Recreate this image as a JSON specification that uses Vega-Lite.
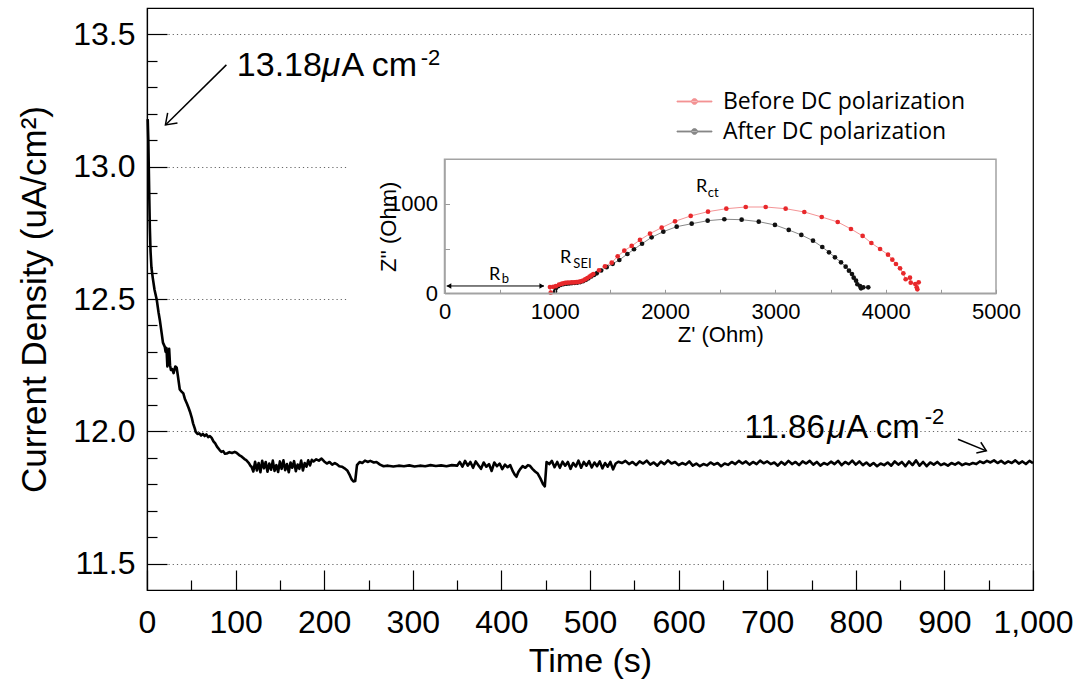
{
  "$schema": "https://vega.github.io/schema/vega-lite/v6.json",
  "width": 886,
  "height": 582,
  "autosize": {"type": "none"},
  "padding": {"left": 147, "top": 8, "right": 47, "bottom": 91},
  "background": "white",
  "config": {
    "view": {"stroke": "black", "strokeWidth": 1.2},
    "font": "Liberation Sans",
    "axis": {"labelFont": "Liberation Sans", "titleFont": "Liberation Sans", "titleFontWeight": "normal", "labelColor": "black", "titleColor": "black", "domainColor": "black", "tickColor": "black"},
    "legend": {"labelFont": "Open Sans", "labelFontSize": 23, "labelLimit": 0, "labelColor": "black"},
    "text": {"font": "Liberation Sans"}
  },
  "datasets": {
    "main": [
      {"t":0.8,"c":13.18},{"t":1.5,"c":13.1},{"t":2.0,"c":13.0},{"t":2.6,"c":12.88},{"t":3.2,"c":12.77},{"t":4.0,"c":12.68},{"t":5.0,"c":12.62},{"t":6.5,"c":12.58},{"t":8.5,"c":12.535},{"t":11,"c":12.497},{"t":13,"c":12.45},{"t":14.5,"c":12.42},{"t":16.5,"c":12.372},{"t":18,"c":12.335},{"t":20,"c":12.32},{"t":21,"c":12.3},{"t":22,"c":12.315},{"t":23,"c":12.245},{"t":24,"c":12.26},{"t":25,"c":12.312},{"t":26,"c":12.25},{"t":27,"c":12.232},{"t":28.5,"c":12.235},{"t":30,"c":12.22},{"t":32,"c":12.245},{"t":33.5,"c":12.24},{"t":35,"c":12.206},{"t":37,"c":12.158},{"t":39,"c":12.15},{"t":41,"c":12.143},{"t":43,"c":12.12},{"t":45,"c":12.105},{"t":47,"c":12.088},{"t":48.5,"c":12.074},{"t":50.5,"c":12.052},{"t":52,"c":12.03},{"t":54,"c":12.01},{"t":55,"c":11.998},{"t":57,"c":11.99},{"t":59,"c":11.992},{"t":61,"c":11.984},{"t":63,"c":11.99},{"t":65,"c":11.982},{"t":67,"c":11.988},{"t":69,"c":11.978},{"t":71,"c":11.982},{"t":73,"c":11.975},{"t":75,"c":11.962},{"t":77,"c":11.954},{"t":79,"c":11.942},{"t":82,"c":11.929},{"t":84,"c":11.922},{"t":86,"c":11.925},{"t":88,"c":11.915},{"t":90,"c":11.916},{"t":93,"c":11.921},{"t":96,"c":11.918},{"t":99,"c":11.922},{"t":101,"c":11.919},{"t":104,"c":11.91},{"t":107,"c":11.904},{"t":110,"c":11.895},{"t":112,"c":11.891},{"t":115,"c":11.88},{"t":117,"c":11.868},
      {"t":118,"c":11.866},{"t":120,"c":11.848},{"t":122,"c":11.885},{"t":124,"c":11.852},{"t":126,"c":11.88},{"t":128,"c":11.845},{"t":130,"c":11.888},{"t":132,"c":11.86},{"t":134,"c":11.884},{"t":136,"c":11.847},{"t":138,"c":11.878},{"t":140,"c":11.855},{"t":142,"c":11.889},{"t":144,"c":11.85},{"t":146,"c":11.872},{"t":148,"c":11.846},{"t":150,"c":11.886},{"t":152,"c":11.858},{"t":154,"c":11.89},{"t":156,"c":11.853},{"t":158,"c":11.876},{"t":160,"c":11.845},{"t":162,"c":11.882},{"t":164,"c":11.862},{"t":166,"c":11.887},{"t":168,"c":11.849},{"t":170,"c":11.874},{"t":172,"c":11.858},{"t":174,"c":11.889},{"t":176,"c":11.852},{"t":178,"c":11.88},{"t":180,"c":11.866},{"t":182,"c":11.89},{"t":184,"c":11.871},{"t":186,"c":11.892},{"t":188,"c":11.886},
      {"t":191,"c":11.894},{"t":194,"c":11.889},{"t":197,"c":11.897},{"t":200,"c":11.886},{"t":203,"c":11.878},{"t":206,"c":11.884},{"t":209,"c":11.874},{"t":212,"c":11.88},{"t":214,"c":11.876},{"t":217,"c":11.868},{"t":220,"c":11.866},{"t":223,"c":11.86},{"t":226,"c":11.852},{"t":229,"c":11.833},{"t":231,"c":11.818},{"t":233,"c":11.81},{"t":235,"c":11.812},{"t":237,"c":11.872},{"t":240,"c":11.884},{"t":243,"c":11.88},{"t":246,"c":11.889},{"t":249,"c":11.884},{"t":252,"c":11.888},{"t":256,"c":11.882},{"t":259,"c":11.884},{"t":263,"c":11.874},{"t":267,"c":11.868},{"t":272,"c":11.87},{"t":278,"c":11.867},{"t":284,"c":11.87},{"t":290,"c":11.868},{"t":296,"c":11.871},{"t":302,"c":11.867},{"t":308,"c":11.87},{"t":314,"c":11.868},{"t":320,"c":11.872},{"t":326,"c":11.869},{"t":332,"c":11.871},{"t":338,"c":11.868},{"t":344,"c":11.872},{"t":350,"c":11.87},
      {"t":353,"c":11.884},{"t":356,"c":11.866},{"t":359,"c":11.888},{"t":362,"c":11.87},{"t":365,"c":11.884},{"t":368,"c":11.862},{"t":371,"c":11.886},{"t":374,"c":11.872},{"t":377,"c":11.858},{"t":380,"c":11.882},{"t":383,"c":11.866},{"t":386,"c":11.876},{"t":389,"c":11.85},{"t":392,"c":11.882},{"t":395,"c":11.868},{"t":398,"c":11.878},{"t":401,"c":11.857},{"t":404,"c":11.874},{"t":407,"c":11.864},{"t":410,"c":11.872},{"t":413,"c":11.848},{"t":415,"c":11.836},{"t":417,"c":11.828},{"t":419,"c":11.845},{"t":421,"c":11.856},{"t":424,"c":11.868},{"t":427,"c":11.862},{"t":430,"c":11.872},{"t":432,"c":11.87},{"t":435,"c":11.858},{"t":438,"c":11.848},{"t":441,"c":11.84},{"t":444,"c":11.822},{"t":447,"c":11.8},{"t":449,"c":11.792},{"t":451,"c":11.884},{"t":454,"c":11.876},{"t":457,"c":11.888},{"t":460,"c":11.864},{"t":463,"c":11.884},{"t":466,"c":11.862},{"t":469,"c":11.885},{"t":472,"c":11.87},{"t":475,"c":11.884},{"t":478,"c":11.858},{"t":481,"c":11.88},{"t":484,"c":11.867},{"t":487,"c":11.889},{"t":490,"c":11.862},{"t":493,"c":11.884},{"t":496,"c":11.87},{"t":499,"c":11.887},{"t":502,"c":11.863},{"t":505,"c":11.882},{"t":508,"c":11.868},{"t":511,"c":11.886},{"t":514,"c":11.86},{"t":517,"c":11.88},{"t":520,"c":11.866},{"t":523,"c":11.884},{"t":526,"c":11.856},{"t":529,"c":11.878},{"t":532,"c":11.885},
      {"t":536,"c":11.88},{"t":540,"c":11.888},{"t":544,"c":11.876},{"t":548,"c":11.884},{"t":552,"c":11.872},{"t":556,"c":11.886},{"t":560,"c":11.878},{"t":564,"c":11.889},{"t":568,"c":11.874},{"t":572,"c":11.882},{"t":576,"c":11.87},{"t":580,"c":11.885},{"t":584,"c":11.876},{"t":588,"c":11.89},{"t":592,"c":11.878},{"t":596,"c":11.884},{"t":600,"c":11.872},{"t":604,"c":11.88},{"t":608,"c":11.874},{"t":612,"c":11.886},{"t":616,"c":11.87},{"t":620,"c":11.878},{"t":624,"c":11.868},{"t":628,"c":11.876},{"t":632,"c":11.871},{"t":636,"c":11.882},{"t":640,"c":11.874},{"t":644,"c":11.88},{"t":648,"c":11.868},{"t":652,"c":11.878},{"t":656,"c":11.873},{"t":660,"c":11.884},{"t":664,"c":11.876},{"t":668,"c":11.888},{"t":672,"c":11.878},{"t":676,"c":11.886},{"t":680,"c":11.874},{"t":684,"c":11.884},{"t":688,"c":11.876},{"t":692,"c":11.889},{"t":696,"c":11.879},{"t":700,"c":11.886},{"t":704,"c":11.876},{"t":708,"c":11.882},{"t":712,"c":11.87},{"t":716,"c":11.884},{"t":720,"c":11.874},{"t":724,"c":11.888},{"t":728,"c":11.876},{"t":732,"c":11.884},{"t":736,"c":11.872},{"t":740,"c":11.886},{"t":744,"c":11.878},{"t":748,"c":11.888},{"t":752,"c":11.874},{"t":756,"c":11.884},{"t":760,"c":11.87},{"t":764,"c":11.88},{"t":768,"c":11.874},{"t":772,"c":11.885},{"t":776,"c":11.876},{"t":780,"c":11.888},{"t":784,"c":11.872},{"t":788,"c":11.884},{"t":792,"c":11.876},{"t":796,"c":11.889},{"t":800,"c":11.874},{"t":804,"c":11.886},{"t":808,"c":11.872},{"t":812,"c":11.882},{"t":816,"c":11.87},{"t":820,"c":11.88},{"t":824,"c":11.868},{"t":828,"c":11.878},{"t":832,"c":11.872},{"t":836,"c":11.882},{"t":840,"c":11.87},{"t":844,"c":11.886},{"t":848,"c":11.874},{"t":852,"c":11.884},{"t":856,"c":11.868},{"t":860,"c":11.886},{"t":864,"c":11.872},{"t":868,"c":11.89},{"t":872,"c":11.87},{"t":876,"c":11.884},{"t":880,"c":11.868},{"t":884,"c":11.882},{"t":888,"c":11.874},{"t":892,"c":11.884},{"t":896,"c":11.872},{"t":900,"c":11.878},{"t":904,"c":11.87},{"t":908,"c":11.88},{"t":912,"c":11.874},{"t":916,"c":11.882},{"t":920,"c":11.872},{"t":924,"c":11.878},{"t":928,"c":11.874},{"t":932,"c":11.88},{"t":936,"c":11.876},{"t":940,"c":11.886},{"t":944,"c":11.88},{"t":948,"c":11.888},{"t":952,"c":11.882},{"t":956,"c":11.89},{"t":960,"c":11.88},{"t":964,"c":11.888},{"t":968,"c":11.878},{"t":972,"c":11.886},{"t":976,"c":11.88},{"t":980,"c":11.89},{"t":984,"c":11.878},{"t":988,"c":11.886},{"t":992,"c":11.876},{"t":996,"c":11.888},{"t":1000,"c":11.88}
    ],
    "eis": [
      {"s":"After DC polarization","i":1,"zr":1002,"zi":18},{"s":"After DC polarization","i":2,"zr":1008,"zi":55},{"s":"After DC polarization","i":3,"zr":1030,"zi":80},{"s":"After DC polarization","i":4,"zr":1055,"zi":95},{"s":"After DC polarization","i":5,"zr":1080,"zi":103},{"s":"After DC polarization","i":6,"zr":1105,"zi":108},{"s":"After DC polarization","i":7,"zr":1130,"zi":111},{"s":"After DC polarization","i":8,"zr":1155,"zi":114},{"s":"After DC polarization","i":9,"zr":1180,"zi":117},{"s":"After DC polarization","i":10,"zr":1205,"zi":120},{"s":"After DC polarization","i":11,"zr":1230,"zi":126},{"s":"After DC polarization","i":12,"zr":1255,"zi":135},{"s":"After DC polarization","i":13,"zr":1280,"zi":150},{"s":"After DC polarization","i":14,"zr":1305,"zi":168},{"s":"After DC polarization","i":15,"zr":1330,"zi":188},{"s":"After DC polarization","i":16,"zr":1355,"zi":205},{"s":"After DC polarization","i":17,"zr":1380,"zi":224},{"s":"After DC polarization","i":18,"zr":1420,"zi":255},{"s":"After DC polarization","i":19,"zr":1470,"zi":292},{"s":"After DC polarization","i":20,"zr":1525,"zi":330},{"s":"After DC polarization","i":21,"zr":1585,"zi":373},{"s":"After DC polarization","i":22,"zr":1658,"zi":440},{"s":"After DC polarization","i":23,"zr":1718,"zi":493},{"s":"After DC polarization","i":24,"zr":1791,"zi":555},{"s":"After DC polarization","i":25,"zr":1878,"zi":627},{"s":"After DC polarization","i":26,"zr":1984,"zi":690},{"s":"After DC polarization","i":27,"zr":2105,"zi":746},{"s":"After DC polarization","i":28,"zr":2241,"zi":779},{"s":"After DC polarization","i":29,"zr":2386,"zi":813},{"s":"After DC polarization","i":30,"zr":2537,"zi":829},{"s":"After DC polarization","i":31,"zr":2694,"zi":824},{"s":"After DC polarization","i":32,"zr":2849,"zi":802},{"s":"After DC polarization","i":33,"zr":2996,"zi":765},{"s":"After DC polarization","i":34,"zr":3121,"zi":709},{"s":"After DC polarization","i":35,"zr":3235,"zi":653},{"s":"After DC polarization","i":36,"zr":3341,"zi":589},{"s":"After DC polarization","i":37,"zr":3425,"zi":518},{"s":"After DC polarization","i":38,"zr":3486,"zi":459},{"s":"After DC polarization","i":39,"zr":3540,"zi":403},{"s":"After DC polarization","i":40,"zr":3595,"zi":347},{"s":"After DC polarization","i":41,"zr":3637,"zi":298},{"s":"After DC polarization","i":42,"zr":3667,"zi":253},{"s":"After DC polarization","i":43,"zr":3694,"zi":216},{"s":"After DC polarization","i":44,"zr":3710,"zi":175},{"s":"After DC polarization","i":45,"zr":3731,"zi":141},{"s":"After DC polarization","i":46,"zr":3743,"zi":101},{"s":"After DC polarization","i":47,"zr":3767,"zi":82},{"s":"After DC polarization","i":48,"zr":3776,"zi":56},{"s":"After DC polarization","i":49,"zr":3797,"zi":67},{"s":"After DC polarization","i":50,"zr":3842,"zi":67},
      {"s":"Before DC polarization","i":1,"zr":963,"zi":7},{"s":"Before DC polarization","i":2,"zr":956,"zi":70},{"s":"Before DC polarization","i":3,"zr":985,"zi":72},{"s":"Before DC polarization","i":4,"zr":1010,"zi":80},{"s":"Before DC polarization","i":5,"zr":1038,"zi":97},{"s":"Before DC polarization","i":6,"zr":1060,"zi":106},{"s":"Before DC polarization","i":7,"zr":1077,"zi":112},{"s":"Before DC polarization","i":8,"zr":1095,"zi":117},{"s":"Before DC polarization","i":9,"zr":1115,"zi":120},{"s":"Before DC polarization","i":10,"zr":1135,"zi":121},{"s":"Before DC polarization","i":11,"zr":1155,"zi":122},{"s":"Before DC polarization","i":12,"zr":1175,"zi":123},{"s":"Before DC polarization","i":13,"zr":1195,"zi":125},{"s":"Before DC polarization","i":14,"zr":1215,"zi":128},{"s":"Before DC polarization","i":15,"zr":1235,"zi":133},{"s":"Before DC polarization","i":16,"zr":1255,"zi":142},{"s":"Before DC polarization","i":17,"zr":1275,"zi":155},{"s":"Before DC polarization","i":18,"zr":1295,"zi":170},{"s":"Before DC polarization","i":19,"zr":1315,"zi":186},{"s":"Before DC polarization","i":20,"zr":1332,"zi":200},{"s":"Before DC polarization","i":21,"zr":1349,"zi":216},{"s":"Before DC polarization","i":22,"zr":1401,"zi":258},{"s":"Before DC polarization","i":23,"zr":1455,"zi":302},{"s":"Before DC polarization","i":24,"zr":1516,"zi":343},{"s":"Before DC polarization","i":25,"zr":1570,"zi":414},{"s":"Before DC polarization","i":26,"zr":1630,"zi":477},{"s":"Before DC polarization","i":27,"zr":1697,"zi":530},{"s":"Before DC polarization","i":28,"zr":1772,"zi":597},{"s":"Before DC polarization","i":29,"zr":1863,"zi":668},{"s":"Before DC polarization","i":30,"zr":1969,"zi":735},{"s":"Before DC polarization","i":31,"zr":2090,"zi":806},{"s":"Before DC polarization","i":32,"zr":2232,"zi":866},{"s":"Before DC polarization","i":33,"zr":2389,"zi":914},{"s":"Before DC polarization","i":34,"zr":2555,"zi":947},{"s":"Before DC polarization","i":35,"zr":2731,"zi":966},{"s":"Before DC polarization","i":36,"zr":2912,"zi":966},{"s":"Before DC polarization","i":37,"zr":3093,"zi":947},{"s":"Before DC polarization","i":38,"zr":3262,"zi":910},{"s":"Before DC polarization","i":39,"zr":3420,"zi":854},{"s":"Before DC polarization","i":40,"zr":3565,"zi":798},{"s":"Before DC polarization","i":41,"zr":3685,"zi":720},{"s":"Before DC polarization","i":42,"zr":3791,"zi":642},{"s":"Before DC polarization","i":43,"zr":3870,"zi":563},{"s":"Before DC polarization","i":44,"zr":3949,"zi":496},{"s":"Before DC polarization","i":45,"zr":4021,"zi":432},{"s":"Before DC polarization","i":46,"zr":4060,"zi":376},{"s":"Before DC polarization","i":47,"zr":4093,"zi":328},{"s":"Before DC polarization","i":48,"zr":4130,"zi":280},{"s":"Before DC polarization","i":49,"zr":4160,"zi":224},{"s":"Before DC polarization","i":50,"zr":4181,"zi":157},{"s":"Before DC polarization","i":51,"zr":4220,"zi":175},{"s":"Before DC polarization","i":52,"zr":4227,"zi":119},{"s":"Before DC polarization","i":53,"zr":4268,"zi":104},{"s":"Before DC polarization","i":54,"zr":4299,"zi":123},{"s":"Before DC polarization","i":55,"zr":4281,"zi":67},{"s":"Before DC polarization","i":56,"zr":4287,"zi":45}
    ]
  },
  "layer": [
    {
      "layer": [
        {
          "data": {"name": "main"},
          "mark": {"type": "line", "color": "black", "strokeWidth": 2.6, "strokeJoin": "round"},
          "encoding": {
            "x": {"field": "t", "type": "quantitative",
              "scale": {"domain": [0, 1000], "nice": false, "zero": false},
              "axis": {"orient": "bottom", "values": [0,100,200,300,400,500,600,700,800,900,1000],
                "format": ",d", "tickSize": -20,
                "tickWidth": 1.2, "domainWidth": 1.2, "grid": false,
                "labelFontSize": 32, "labelPadding": 37, "labelOverlap": false, "labelFlush": false,
                "title": "Time (s)", "titleFontSize": 34, "titlePadding": 6}},
            "y": {"field": "c", "type": "quantitative",
              "scale": {"domain": [11.4, 13.6], "nice": false, "zero": false},
              "axis": {"orient": "left", "values": [11.5, 12, 12.5, 13, 13.5],
                "format": ".1f", "tickSize": -20,
                "tickWidth": 1.2, "domainWidth": 1.2,
                "grid": true, "gridDash": [1.2, 3], "gridColor": "#666666", "gridWidth": 1.2,
                "labelFontSize": 32, "labelPadding": 32, "labelOverlap": false, "labelFlush": false,
                "title": "Current Density (uA/cm²)", "titleFontSize": 35, "titlePadding": 20}}
          }
        },
        {
          "data": {"values": [{}]},
          "mark": {"type": "rect", "fill": "white"},
          "encoding": {
            "x": {"datum": 226.5, "type": "quantitative",
              "axis": {"orient": "bottom", "values": [50,150,250,350,450,550,650,750,850,950],
                "tickSize": -10, "tickWidth": 1.2, "labels": false, "domain": false, "grid": false, "title": null}},
            "x2": {"datum": 998},
            "y": {"datum": 12.3, "type": "quantitative",
              "axis": {"orient": "left", "values": [11.6,11.7,11.8,11.9,12.1,12.2,12.3,12.4,12.6,12.7,12.8,12.9,13.1,13.2,13.3,13.4],
                "tickSize": -10, "tickWidth": 1.2, "labels": false, "domain": false, "grid": false, "title": null}},
            "y2": {"datum": 13.35}}
        },
        {
          "data": {"values": [{}]},
          "mark": {"type": "rule", "color": "black", "strokeWidth": 1.5},
          "encoding": {"x": {"datum": 89.6, "type": "quantitative", "axis": null}, "y": {"datum": 13.385, "type": "quantitative", "axis": null}, "x2": {"datum": 20.8}, "y2": {"datum": 13.158}}
        },
        {
          "data": {"values": [{}]},
          "mark": {"type": "point", "shape": "M-1,-0.7L0,0L-1,0.7", "filled": false, "stroke": "black", "strokeWidth": 1.5, "size": 400, "opacity": 1, "angle": 135.5},
          "encoding": {"x": {"datum": 20.8, "type": "quantitative", "axis": null}, "y": {"datum": 13.158, "type": "quantitative", "axis": null}}
        },
        {
          "data": {"values": [{}]},
          "mark": {"type": "rule", "color": "black", "strokeWidth": 1.5},
          "encoding": {"x": {"datum": 915.3, "type": "quantitative", "axis": null}, "y": {"datum": 11.97, "type": "quantitative", "axis": null}, "x2": {"datum": 947.3}, "y2": {"datum": 11.926}}
        },
        {
          "data": {"values": [{}]},
          "mark": {"type": "point", "shape": "M-1,-0.7L0,0L-1,0.7", "filled": false, "stroke": "black", "strokeWidth": 1.5, "size": 280, "opacity": 1, "angle": 22.4},
          "encoding": {"x": {"datum": 947.3, "type": "quantitative", "axis": null}, "y": {"datum": 11.926, "type": "quantitative", "axis": null}}
        },
        {
          "data": {"values": [{}]},
          "mark": {"type": "text", "text": "13.18", "align": "left", "baseline": "alphabetic", "fontSize": 34, "color": "black"},
          "encoding": {"x": {"datum": 101.4, "type": "quantitative", "axis": null}, "y": {"datum": 13.343, "type": "quantitative", "axis": null}}
        },
        {
          "data": {"values": [{}]},
          "mark": {"type": "text", "text": "μ", "align": "left", "baseline": "alphabetic", "fontSize": 34, "fontStyle": "italic", "color": "black"},
          "encoding": {"x": {"datum": 197.2, "type": "quantitative", "axis": null}, "y": {"datum": 13.343, "type": "quantitative", "axis": null}}
        },
        {
          "data": {"values": [{}]},
          "mark": {"type": "text", "text": "A cm", "align": "left", "baseline": "alphabetic", "fontSize": 34, "color": "black"},
          "encoding": {"x": {"datum": 219.6, "type": "quantitative", "axis": null}, "y": {"datum": 13.343, "type": "quantitative", "axis": null}}
        },
        {
          "data": {"values": [{}]},
          "mark": {"type": "text", "text": "-2", "align": "left", "baseline": "alphabetic", "fontSize": 22, "color": "black"},
          "encoding": {"x": {"datum": 309, "type": "quantitative", "axis": null}, "y": {"datum": 13.385, "type": "quantitative", "axis": null}}
        },
        {
          "data": {"values": [{}]},
          "mark": {"type": "text", "text": "11.86", "align": "left", "baseline": "alphabetic", "fontSize": 33, "color": "black"},
          "encoding": {"x": {"datum": 674.5, "type": "quantitative", "axis": null}, "y": {"datum": 11.973, "type": "quantitative", "axis": null}}
        },
        {
          "data": {"values": [{}]},
          "mark": {"type": "text", "text": "μ", "align": "left", "baseline": "alphabetic", "fontSize": 33, "fontStyle": "italic", "color": "black"},
          "encoding": {"x": {"datum": 767.8, "type": "quantitative", "axis": null}, "y": {"datum": 11.973, "type": "quantitative", "axis": null}}
        },
        {
          "data": {"values": [{}]},
          "mark": {"type": "text", "text": "A cm", "align": "left", "baseline": "alphabetic", "fontSize": 33, "color": "black"},
          "encoding": {"x": {"datum": 789.3, "type": "quantitative", "axis": null}, "y": {"datum": 11.973, "type": "quantitative", "axis": null}}
        },
        {
          "data": {"values": [{}]},
          "mark": {"type": "text", "text": "-2", "align": "left", "baseline": "alphabetic", "fontSize": 22, "color": "black"},
          "encoding": {"x": {"datum": 877.8, "type": "quantitative", "axis": null}, "y": {"datum": 12.027, "type": "quantitative", "axis": null}}
        }
      ],
      "resolve": {"axis": {"x": "independent", "y": "independent"}}
    },
    {
      "layer": [
        {
          "data": {"name": "eis"},
          "mark": {"type": "line", "strokeWidth": 1, "opacity": 0.5},
          "encoding": {
            "x": {"field": "zr", "type": "quantitative",
              "scale": {"domain": [0, 5000], "range": [297.5, 849], "nice": false, "zero": false},
              "axis": {"orient": "bottom", "offset": -296.7, "values": [0,500,1000,1500,2000,2500,3000,3500,4000,4500,5000],
                "labelExpr": "datum.value % 1000 === 0 ? '' + datum.value : ''",
                "tickSize": -4, "tickColor": "#999999", "domainColor": "#a3a3a3", "domainWidth": 1.5, "grid": false,
                "labelFontSize": 22, "labelPadding": 12, "labelOverlap": false, "labelFlush": false,
                "title": "Z' (Ohm)", "titleFontSize": 22, "titlePadding": 2, "zindex": 1}},
            "y": {"field": "zi", "type": "quantitative",
              "scale": {"domain": [0, 1500], "range": [285.3, 151.3], "nice": false, "zero": false},
              "axis": {"orient": "left", "offset": -297.5, "values": [0,500,1000],
                "labelExpr": "datum.value === 500 ? '' : '' + datum.value",
                "tickSize": -5, "tickColor": "#999999", "domainColor": "#a3a3a3", "domainWidth": 1.5, "grid": false,
                "labelFontSize": 22, "labelPadding": 12, "labelOverlap": false, "labelFlush": false,
                "title": "Z'' (Ohm)", "titleFontSize": 22, "titlePadding": -12, "zindex": 1}},
            "color": {"field": "s", "type": "nominal",
              "scale": {"domain": ["Before DC polarization", "After DC polarization"], "range": ["#e8282b", "#111111"]},
              "legend": {"orient": "none", "legendX": 536, "legendY": 82, "title": null, "padding": 0, "zindex": 2,
                "symbolType": "M-2,-0.06L2,-0.06L2,0.06L-2,0.06ZM-0.34,0A0.34,0.34,0,1,0,0.34,0A0.34,0.34,0,1,0,-0.34,0Z",
                "symbolSize": 306, "symbolStrokeWidth": 0.8, "labelFont": "Open Sans", "labelFontSize": 23, "labelLimit": 0,
                "labelColor": "black", "labelOffset": 17, "rowPadding": 6}},
            "order": {"field": "i", "type": "quantitative"}
          }
        },
        {
          "data": {"name": "eis"},
          "mark": {"type": "point", "filled": true, "size": 22, "opacity": 1},
          "encoding": {
            "x": {"field": "zr", "type": "quantitative"},
            "y": {"field": "zi", "type": "quantitative"},
            "color": {"field": "s", "type": "nominal",
              "legend": {"orient": "none", "legendX": 536, "legendY": 82, "title": null, "padding": 0, "zindex": 2,
                "symbolType": "M-2,-0.06L2,-0.06L2,0.06L-2,0.06ZM-0.34,0A0.34,0.34,0,1,0,0.34,0A0.34,0.34,0,1,0,-0.34,0Z",
                "symbolSize": 306, "symbolStrokeWidth": 0.8, "labelFont": "Open Sans", "labelFontSize": 23, "labelLimit": 0,
                "labelColor": "black", "labelOffset": 17, "rowPadding": 6}}
          }
        },
        {
          "data": {"values": [{}]},
          "mark": {"type": "rect", "fill": "white", "fillOpacity": 0, "stroke": "#a3a3a3", "strokeWidth": 1.5},
          "encoding": {"x": {"datum": 0, "type": "quantitative"}, "x2": {"datum": 5000}, "y": {"datum": 0, "type": "quantitative"}, "y2": {"datum": 1500}}
        },
        {
          "data": {"values": [{}]},
          "mark": {"type": "rule", "color": "black", "strokeWidth": 1},
          "encoding": {"x": {"datum": 20, "type": "quantitative"}, "x2": {"datum": 902}, "y": {"datum": 82, "type": "quantitative"}}
        },
        {
          "data": {"values": [{}]},
          "mark": {"type": "point", "shape": "triangle-left", "filled": true, "color": "black", "size": 30, "opacity": 1},
          "encoding": {"x": {"datum": 40, "type": "quantitative"}, "y": {"datum": 82, "type": "quantitative"}}
        },
        {
          "data": {"values": [{}]},
          "mark": {"type": "point", "shape": "triangle-right", "filled": true, "color": "black", "size": 30, "opacity": 1},
          "encoding": {"x": {"datum": 882, "type": "quantitative"}, "y": {"datum": 82, "type": "quantitative"}}
        },
        {
          "data": {"values": [{}]},
          "mark": {"type": "text", "text": "R", "align": "left", "baseline": "alphabetic", "font": "Lato", "fontSize": 18, "color": "black"},
          "encoding": {"x": {"datum": 403, "type": "quantitative"}, "y": {"datum": 149, "type": "quantitative"}}
        },
        {
          "data": {"values": [{}]},
          "mark": {"type": "text", "text": "b", "align": "left", "baseline": "alphabetic", "font": "Lato", "fontSize": 13, "color": "black"},
          "encoding": {"x": {"datum": 518, "type": "quantitative"}, "y": {"datum": 112, "type": "quantitative"}}
        },
        {
          "data": {"values": [{}]},
          "mark": {"type": "text", "text": "R", "align": "left", "baseline": "alphabetic", "font": "Lato", "fontSize": 18, "color": "black"},
          "encoding": {"x": {"datum": 1047, "type": "quantitative"}, "y": {"datum": 336, "type": "quantitative"}}
        },
        {
          "data": {"values": [{}]},
          "mark": {"type": "text", "text": "SEI", "align": "left", "baseline": "alphabetic", "font": "Lato", "fontSize": 13, "color": "black"},
          "encoding": {"x": {"datum": 1168, "type": "quantitative"}, "y": {"datum": 280, "type": "quantitative"}}
        },
        {
          "data": {"values": [{}]},
          "mark": {"type": "text", "text": "R", "align": "left", "baseline": "alphabetic", "font": "Lato", "fontSize": 18, "color": "black"},
          "encoding": {"x": {"datum": 2280, "type": "quantitative"}, "y": {"datum": 1138, "type": "quantitative"}}
        },
        {
          "data": {"values": [{}]},
          "mark": {"type": "text", "text": "ct", "align": "left", "baseline": "alphabetic", "font": "Lato", "fontSize": 13, "color": "black"},
          "encoding": {"x": {"datum": 2386, "type": "quantitative"}, "y": {"datum": 1082, "type": "quantitative"}}
        }
      ]
    }
  ],
  "resolve": {"scale": {"x": "independent", "y": "independent"}, "axis": {"x": "independent", "y": "independent"}}
}
